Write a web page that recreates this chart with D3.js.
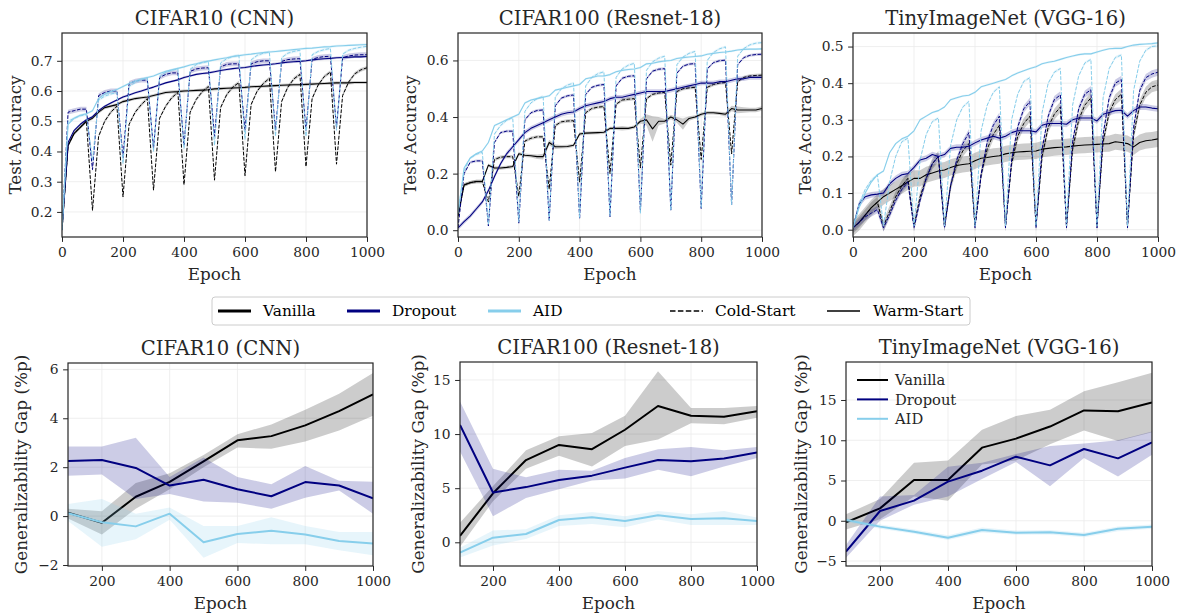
<!DOCTYPE html>
<html>
<head>
<meta charset="utf-8">
<script src="https://cdn.jsdelivr.net/npm/d3@7"></script>
<style>
body { margin: 0; background: #fff; }
svg text { font-family: "DejaVu Serif", serif; }
</style>
</head>
<body>
<svg id="chart" width="1178" height="614"></svg>
<script>
// ---- data ----
const epochs = [0,20,40,60,80,100,120,140,160,180,200,220,240,260,280,300,320,340,360,380,400,420,440,460,480,500,520,540,560,580,600,620,640,660,680,700,720,740,760,780,800,820,840,860,880,900,920,940,960,980,1000];
const gapEpochs = [100,200,300,400,500,600,700,800,900,1000];
const epochTicks = [0,200,400,600,800,1000];
const gapEpochTicks = [200,400,600,800,1000];

const methods = ["Vanilla", "Dropout", "AID"];
const methodColors = ["#000000", "#000080", "#87ceeb"];

// CIFAR10 (CNN) test accuracy
const c10VanWarm = [0.14,0.42,0.46,0.48,0.50, 0.51,0.53,0.545,0.55,0.555, 0.565,0.57,0.575,0.578,0.58, 0.585,0.59,0.595,0.597,0.598, 0.60,0.601,0.602,0.603,0.604, 0.607,0.608,0.609,0.61,0.611, 0.612,0.614,0.615,0.616,0.617, 0.618,0.619,0.62,0.621,0.621, 0.622,0.623,0.624,0.625,0.626, 0.627,0.627,0.627,0.628,0.628, 0.628];
const c10VanCold = [0.14,0.42,0.46,0.48,0.50, 0.205,0.45,0.50,0.53,0.55, 0.25,0.49,0.53,0.555,0.575, 0.272,0.51,0.55,0.578,0.595, 0.29,0.53,0.572,0.598,0.615, 0.305,0.545,0.588,0.613,0.628, 0.32,0.555,0.60,0.625,0.642, 0.333,0.565,0.612,0.64,0.655, 0.35,0.575,0.62,0.648,0.663, 0.358,0.585,0.63,0.657,0.67, 0.677];
const c10DropWarm = [0.14,0.43,0.47,0.49,0.505, 0.515,0.535,0.55,0.56,0.57, 0.58,0.587,0.594,0.60,0.607, 0.613,0.62,0.627,0.632,0.637, 0.645,0.65,0.655,0.658,0.66, 0.664,0.668,0.671,0.674,0.676, 0.678,0.681,0.684,0.686,0.688, 0.69,0.693,0.695,0.697,0.698, 0.70,0.703,0.705,0.707,0.708, 0.71,0.711,0.712,0.713,0.713, 0.714];
const c10DropCold = [0.14,0.53,0.535,0.54,0.54, 0.34,0.585,0.595,0.60,0.60, 0.38,0.625,0.633,0.636,0.636, 0.41,0.645,0.655,0.66,0.66, 0.42,0.665,0.673,0.676,0.677, 0.45,0.68,0.688,0.69,0.69, 0.47,0.69,0.697,0.70,0.70, 0.47,0.698,0.704,0.706,0.707, 0.47,0.705,0.711,0.714,0.715, 0.48,0.71,0.716,0.719,0.72, 0.72];
const c10AidWarm = [0.14,0.49,0.51,0.52,0.525, 0.535,0.575,0.59,0.598,0.605, 0.615,0.625,0.633,0.64,0.645, 0.65,0.658,0.665,0.67,0.675, 0.68,0.686,0.69,0.695,0.699, 0.703,0.707,0.71,0.714,0.717, 0.72,0.722,0.725,0.727,0.729, 0.731,0.733,0.735,0.737,0.739, 0.741,0.742,0.744,0.746,0.747, 0.749,0.75,0.751,0.752,0.753, 0.754];
const c10AidCold = [0.14,0.50,0.51,0.518,0.522, 0.37,0.57,0.583,0.59,0.595, 0.36,0.615,0.628,0.638,0.643, 0.40,0.648,0.662,0.669,0.673, 0.41,0.672,0.687,0.694,0.698, 0.42,0.693,0.707,0.714,0.718, 0.44,0.703,0.718,0.725,0.729, 0.45,0.71,0.725,0.731,0.735, 0.45,0.72,0.731,0.737,0.741, 0.47,0.722,0.735,0.741,0.745, 0.748];

// CIFAR100 (Resnet-18) test accuracy
const c100VanWarm = [0.05,0.16,0.168,0.172,0.172, 0.23,0.22,0.22,0.222,0.225, 0.27,0.265,0.263,0.26,0.26, 0.31,0.295,0.295,0.296,0.30, 0.34,0.343,0.344,0.345,0.346, 0.36,0.36,0.36,0.36,0.365, 0.385,0.39,0.358,0.385,0.385, 0.40,0.39,0.375,0.395,0.40, 0.41,0.415,0.415,0.413,0.41, 0.43,0.425,0.425,0.425,0.425, 0.43];
const c100VanWarmSd = [0.004,0.006,0.006,0.006,0.006, 0.006,0.006,0.006,0.006,0.006, 0.006,0.006,0.006,0.008,0.01, 0.01,0.008,0.006,0.006,0.006, 0.006,0.006,0.006,0.006,0.006, 0.006,0.006,0.008,0.006,0.006, 0.008,0.02,0.045,0.015,0.008, 0.008,0.01,0.02,0.008,0.006, 0.006,0.006,0.006,0.006,0.008, 0.01,0.012,0.01,0.008,0.008, 0.008];
const c100VanCold = [0.05,0.16,0.168,0.172,0.172, 0.10,0.25,0.258,0.26,0.26, 0.12,0.315,0.325,0.33,0.33, 0.145,0.37,0.383,0.386,0.387, 0.17,0.415,0.43,0.435,0.437, 0.20,0.445,0.46,0.463,0.465, 0.22,0.465,0.48,0.485,0.487, 0.23,0.49,0.50,0.503,0.505, 0.25,0.505,0.515,0.52,0.522, 0.27,0.525,0.54,0.545,0.547, 0.548];
const c100DropWarm = [0.008,0.03,0.05,0.075,0.10, 0.14,0.19,0.235,0.27,0.295, 0.32,0.345,0.36,0.37,0.38, 0.39,0.40,0.41,0.415,0.418, 0.43,0.44,0.445,0.45,0.455, 0.465,0.47,0.47,0.475,0.48, 0.485,0.49,0.49,0.49,0.49, 0.495,0.50,0.505,0.51,0.515, 0.52,0.52,0.52,0.525,0.525, 0.53,0.535,0.535,0.54,0.54, 0.54];
const c100DropCold = [0.008,0.20,0.24,0.245,0.245, 0.015,0.31,0.345,0.35,0.35, 0.025,0.39,0.415,0.423,0.425, 0.035,0.44,0.467,0.475,0.478, 0.04,0.48,0.505,0.512,0.515, 0.048,0.51,0.537,0.544,0.546, 0.065,0.535,0.562,0.569,0.571, 0.071,0.555,0.58,0.587,0.589, 0.077,0.57,0.592,0.599,0.601, 0.09,0.585,0.61,0.618,0.621, 0.622];
const c100AidWarm = [0.06,0.22,0.255,0.27,0.28, 0.31,0.37,0.38,0.39,0.40, 0.41,0.45,0.46,0.465,0.47, 0.475,0.495,0.50,0.505,0.51, 0.515,0.535,0.54,0.545,0.545, 0.55,0.56,0.565,0.568,0.57, 0.575,0.588,0.59,0.595,0.598, 0.60,0.607,0.61,0.612,0.614, 0.616,0.622,0.625,0.628,0.63, 0.633,0.637,0.639,0.64,0.64, 0.641];
const c100AidCold = [0.06,0.21,0.255,0.268,0.275, 0.02,0.34,0.37,0.388,0.398, 0.03,0.42,0.45,0.465,0.473, 0.035,0.47,0.50,0.513,0.52, 0.045,0.51,0.54,0.553,0.56, 0.05,0.54,0.57,0.583,0.59, 0.06,0.565,0.595,0.608,0.615, 0.07,0.585,0.612,0.625,0.632, 0.08,0.60,0.628,0.641,0.648, 0.09,0.615,0.642,0.655,0.661, 0.663];

// TinyImageNet (VGG-16) test accuracy
const tinVanWarm = [0.005,0.02,0.04,0.06,0.075, 0.09,0.10,0.11,0.12,0.13, 0.14,0.14,0.15,0.155,0.16, 0.163,0.17,0.175,0.178,0.18, 0.188,0.195,0.197,0.20,0.202, 0.207,0.21,0.212,0.213,0.214, 0.215,0.22,0.222,0.224,0.225, 0.226,0.228,0.23,0.231,0.232, 0.233,0.234,0.235,0.24,0.238, 0.235,0.226,0.238,0.243,0.245, 0.248];
const tinVanCold = [0.005,0.02,0.04,0.06,0.075, 0.01,0.05,0.09,0.12,0.14, 0.01,0.09,0.14,0.18,0.20, 0.01,0.12,0.18,0.215,0.235, 0.01,0.15,0.22,0.26,0.285, 0.01,0.18,0.255,0.29,0.31, 0.01,0.20,0.28,0.315,0.335, 0.01,0.22,0.30,0.34,0.36, 0.01,0.24,0.32,0.355,0.37, 0.01,0.26,0.34,0.375,0.39, 0.395];
const tinDropWarm = [0.005,0.07,0.09,0.095,0.097, 0.10,0.125,0.14,0.15,0.153, 0.17,0.19,0.195,0.205,0.20, 0.205,0.222,0.225,0.225,0.228, 0.237,0.245,0.25,0.255,0.25, 0.255,0.265,0.27,0.27,0.27, 0.267,0.285,0.29,0.29,0.29, 0.288,0.30,0.305,0.305,0.305, 0.297,0.315,0.32,0.325,0.326, 0.31,0.325,0.335,0.335,0.332, 0.33];
const tinDropCold = [0.005,0.02,0.035,0.045,0.055, 0.005,0.04,0.08,0.11,0.13, 0.005,0.08,0.14,0.18,0.20, 0.005,0.12,0.19,0.235,0.265, 0.005,0.15,0.24,0.285,0.31, 0.005,0.19,0.28,0.33,0.35, 0.005,0.22,0.31,0.355,0.368, 0.005,0.24,0.33,0.37,0.382, 0.005,0.26,0.36,0.40,0.41, 0.005,0.28,0.38,0.415,0.425, 0.43];
const tinAidWarm = [0.005,0.06,0.10,0.13,0.15, 0.16,0.21,0.235,0.248,0.255, 0.27,0.30,0.31,0.32,0.325, 0.335,0.355,0.36,0.365,0.367, 0.375,0.39,0.395,0.40,0.405, 0.41,0.42,0.428,0.434,0.44, 0.445,0.453,0.457,0.46,0.465, 0.47,0.474,0.478,0.48,0.48, 0.485,0.49,0.494,0.495,0.495, 0.50,0.504,0.506,0.507,0.508, 0.51];
const tinAidCold = [0.005,0.07,0.11,0.135,0.15, 0.01,0.13,0.20,0.24,0.25, 0.01,0.19,0.26,0.295,0.305, 0.01,0.23,0.30,0.335,0.35, 0.01,0.27,0.34,0.375,0.39, 0.01,0.30,0.37,0.405,0.415, 0.01,0.32,0.40,0.43,0.44, 0.01,0.34,0.42,0.455,0.465, 0.01,0.36,0.44,0.47,0.477, 0.01,0.38,0.46,0.49,0.50, 0.502];

// generalizability gap (%p): mean, lower, upper
const c10GapVan   = [0.14,-0.27,0.79,1.40,2.24,3.10,3.27,3.71,4.29,4.98];
const c10GapVanLo = [-0.1,-0.75,0.3,1.1,2.0,2.8,2.75,3.05,3.5,4.1];
const c10GapVanHi = [0.3,0.2,1.35,1.75,2.5,3.35,3.75,4.35,5.0,5.85];
const c10GapDrop   = [2.25,2.29,1.97,1.25,1.49,1.1,0.81,1.39,1.25,0.73];
const c10GapDropLo = [1.65,1.7,0.7,0.9,0.6,0.55,0.3,0.75,1.05,0.1];
const c10GapDropHi = [2.85,2.85,3.2,1.6,2.4,1.6,1.3,2.05,1.45,1.4];
const c10GapAid   = [0.12,-0.25,-0.42,0.1,-1.07,-0.73,-0.6,-0.75,-1.02,-1.12];
const c10GapAidLo = [-0.2,-1.25,-0.95,-0.15,-1.7,-1.1,-1.15,-1.15,-1.4,-1.6];
const c10GapAidHi = [0.5,0.7,0.1,0.35,-0.4,-0.4,-0.05,-0.4,-0.65,-0.65];

const c100GapVan   = [0.59,4.53,7.6,9.0,8.6,10.4,12.6,11.7,11.6,12.1];
const c100GapVanLo = [-0.4,3.8,6.8,8.0,7.0,8.9,9.5,11.0,10.9,11.5];
const c100GapVanHi = [1.8,5.2,8.5,9.8,10.1,11.7,15.8,12.4,12.4,12.6];
const c100GapDrop   = [10.85,4.6,5.1,5.76,6.16,6.9,7.6,7.5,7.75,8.29];
const c100GapDropLo = [8.4,2.4,4.1,4.9,5.7,5.9,6.7,6.1,7.0,7.8];
const c100GapDropHi = [13.0,6.8,6.0,6.7,6.6,7.8,8.6,8.8,8.5,8.8];
const c100GapAid   = [-0.95,0.43,0.77,2.06,2.31,1.97,2.5,2.16,2.22,1.97];
const c100GapAidLo = [-1.4,-0.3,0.3,1.5,1.7,1.4,2.1,1.6,1.6,1.6];
const c100GapAidHi = [-0.5,1.1,1.2,2.5,2.8,2.4,2.9,2.6,2.9,2.3];

const tinGapVan   = [-0.2,1.54,5.06,5.06,9.08,10.2,11.7,13.7,13.6,14.7];
const tinGapVanLo = [-1.1,0.2,3.0,2.5,7.0,7.5,9.5,11.2,9.9,11.0];
const tinGapVanHi = [0.8,2.7,7.2,7.5,11.3,13.0,13.8,16.1,17.2,18.4];
const tinGapDrop   = [-3.84,1.21,2.5,4.86,6.22,7.96,6.88,8.91,7.75,9.74];
const tinGapDropLo = [-4.6,0.0,2.0,3.0,5.2,7.3,4.3,7.8,5.5,8.2];
const tinGapDropHi = [-3.0,3.0,3.2,6.7,7.2,8.3,9.3,9.6,10.0,11.1];
const tinGapAid   = [0.1,-0.73,-1.36,-2.1,-1.15,-1.48,-1.44,-1.77,-0.98,-0.73];
const tinGapAidLo = [-0.2,-1.0,-1.6,-2.4,-1.45,-1.75,-1.7,-2.05,-1.3,-1.0];
const tinGapAidHi = [0.35,-0.45,-1.1,-1.8,-0.85,-1.2,-1.15,-1.5,-0.7,-0.45];

// ---- drawing ----
const svg = d3.select("#chart");
const defs = svg.append("defs");
const ink = "#262626";

function band(ys, sd) {
	return {
		lo: ys.map((v, i) => v - (Array.isArray(sd) ? sd[i] : sd)),
		hi: ys.map((v, i) => v + (Array.isArray(sd) ? sd[i] : sd))
	};
}

// one accuracy curve: warm or cold, with its shaded spread
function accSeries(ys, sd, colorIdx, cold) {
	const b = band(ys, sd);
	return {xs: epochs, ys: ys, lo: b.lo, hi: b.hi, color: methodColors[colorIdx],
		dash: cold ? "3.7,1.6" : null, width: cold ? 1.0 : 1.1};
}

function gapSeries(ys, lo, hi, colorIdx) {
	return {xs: gapEpochs, ys: ys, lo: lo, hi: hi, color: methodColors[colorIdx], dash: null, width: 2};
}

const panels = [
	{title: "CIFAR10 (CNN)", left: 62, right: 367, top: 33, bottom: 237,
	 xDomain: [0, 1000], yDomain: [0.117, 0.792], xTicks: epochTicks, yTicks: [0.2,0.3,0.4,0.5,0.6,0.7],
	 yFmt: d3.format(".1f"), yLabel: "Test Accuracy", yLabelX: 21, series: [
		accSeries(c10VanCold, 0.006, 0, true), accSeries(c10VanWarm, 0.005, 0, false),
		accSeries(c10DropCold, 0.008, 1, true), accSeries(c10DropWarm, 0.004, 1, false),
		accSeries(c10AidCold, 0.005, 2, true), accSeries(c10AidWarm, 0.004, 2, false)]},
	{title: "CIFAR100 (Resnet-18)", left: 458, right: 762, top: 33, bottom: 237,
	 xDomain: [0, 1000], yDomain: [-0.024, 0.697], xTicks: epochTicks, yTicks: [0.0,0.2,0.4,0.6],
	 yFmt: d3.format(".1f"), yLabel: "Test Accuracy", yLabelX: 416, series: [
		accSeries(c100VanCold, 0.006, 0, true), accSeries(c100VanWarm, c100VanWarmSd, 0, false),
		accSeries(c100DropCold, 0.005, 1, true), accSeries(c100DropWarm, 0.008, 1, false),
		accSeries(c100AidCold, 0.005, 2, true), accSeries(c100AidWarm, 0.004, 2, false)]},
	{title: "TinyImageNet (VGG-16)", left: 853, right: 1158, top: 33, bottom: 237,
	 xDomain: [0, 1000], yDomain: [-0.020, 0.537], xTicks: epochTicks, yTicks: [0.0,0.1,0.2,0.3,0.4,0.5],
	 yFmt: d3.format(".1f"), yLabel: "Test Accuracy", yLabelX: 811, series: [
		accSeries(tinVanCold, 0.015, 0, true), accSeries(tinVanWarm, 0.022, 0, false),
		accSeries(tinDropCold, 0.01, 1, true), accSeries(tinDropWarm, 0.008, 1, false),
		accSeries(tinAidCold, 0.004, 2, true), accSeries(tinAidWarm, 0.003, 2, false)]},
	{title: "CIFAR10 (CNN)", left: 68, right: 373, top: 363, bottom: 566,
	 xDomain: [100, 1000], yDomain: [-2.04, 6.26], xTicks: gapEpochTicks, yTicks: [-2,0,2,4,6],
	 yFmt: d3.format("d"), yLabel: "Generalizability Gap (%p)", yLabelX: 27, series: [
		gapSeries(c10GapVan, c10GapVanLo, c10GapVanHi, 0),
		gapSeries(c10GapDrop, c10GapDropLo, c10GapDropHi, 1),
		gapSeries(c10GapAid, c10GapAidLo, c10GapAidHi, 2)]},
	{title: "CIFAR100 (Resnet-18)", left: 460, right: 757, top: 362, bottom: 566,
	 xDomain: [100, 1000], yDomain: [-2.19, 16.66], xTicks: gapEpochTicks, yTicks: [0,5,10,15],
	 yFmt: d3.format("d"), yLabel: "Generalizability Gap (%p)", yLabelX: 424, series: [
		gapSeries(c100GapVan, c100GapVanLo, c100GapVanHi, 0),
		gapSeries(c100GapDrop, c100GapDropLo, c100GapDropHi, 1),
		gapSeries(c100GapAid, c100GapAidLo, c100GapAidHi, 2)]},
	{title: "TinyImageNet (VGG-16)", left: 846, right: 1152, top: 362, bottom: 566,
	 xDomain: [100, 1000], yDomain: [-5.62, 19.72], xTicks: gapEpochTicks, yTicks: [-5,0,5,10,15],
	 yFmt: d3.format("d"), yLabel: "Generalizability Gap (%p)", yLabelX: 807, legend: true, series: [
		gapSeries(tinGapVan, tinGapVanLo, tinGapVanHi, 0),
		gapSeries(tinGapDrop, tinGapDropLo, tinGapDropHi, 1),
		gapSeries(tinGapAid, tinGapAidLo, tinGapAidHi, 2)]}
];

function drawPanel(p, idx) {
	const x = d3.scaleLinear().domain(p.xDomain).range([p.left, p.right]);
	const y = d3.scaleLinear().domain(p.yDomain).range([p.bottom, p.top]);
	const g = svg.append("g");

	// grid
	g.append("g").selectAll("line").data(p.xTicks).join("line")
		.attr("x1", d => x(d)).attr("x2", d => x(d))
		.attr("y1", p.top).attr("y2", p.bottom)
		.attr("stroke", "#ebebeb").attr("stroke-width", 0.8);
	g.append("g").selectAll("line").data(p.yTicks).join("line")
		.attr("x1", p.left).attr("x2", p.right)
		.attr("y1", d => y(d)).attr("y2", d => y(d))
		.attr("stroke", "#ebebeb").attr("stroke-width", 0.8);

	defs.append("clipPath").attr("id", "clip" + idx)
		.append("rect").attr("x", p.left).attr("y", p.top)
		.attr("width", p.right - p.left).attr("height", p.bottom - p.top);
	const plot = g.append("g").attr("clip-path", "url(#clip" + idx + ")");

	p.series.forEach(s => {
		const pts = s.xs.map((e, i) => ({e: e, v: s.ys[i], lo: s.lo[i], hi: s.hi[i]}));
		plot.append("path").datum(pts)
			.attr("fill", s.color).attr("fill-opacity", 0.2)
			.attr("d", d3.area().x(d => x(d.e)).y0(d => y(d.lo)).y1(d => y(d.hi)));
		plot.append("path").datum(pts)
			.attr("fill", "none").attr("stroke", s.color)
			.attr("stroke-width", s.width)
			.attr("stroke-dasharray", s.dash)
			.attr("stroke-linejoin", "round")
			.attr("d", d3.line().x(d => x(d.e)).y(d => y(d.v)));
	});

	// frame
	g.append("rect").attr("x", p.left).attr("y", p.top)
		.attr("width", p.right - p.left).attr("height", p.bottom - p.top)
		.attr("fill", "none").attr("stroke", ink).attr("stroke-width", 1.2);

	// axes
	const ax = g.append("g").attr("transform", "translate(0," + p.bottom + ")")
		.call(d3.axisBottom(x).tickValues(p.xTicks).tickFormat(d3.format("d")).tickSize(4.9).tickPadding(5.5));
	const ay = g.append("g").attr("transform", "translate(" + p.left + ",0)")
		.call(d3.axisLeft(y).tickValues(p.yTicks).tickFormat(p.yFmt).tickSize(4.9).tickPadding(4.5));
	[ax, ay].forEach(a => {
		a.select(".domain").remove();
		a.selectAll("line").attr("stroke", ink).attr("stroke-width", 1);
		a.selectAll("text").attr("fill", ink).style("font-size", "13.8px")
			.style("font-family", "DejaVu Serif, serif");
	});

	// titles and labels
	g.append("text").attr("x", (p.left + p.right) / 2).attr("y", p.top - 8)
		.attr("text-anchor", "middle").attr("fill", ink).style("font-size", "19.6px").text(p.title);
	g.append("text").attr("x", (p.left + p.right) / 2).attr("y", p.bottom + 43)
		.attr("text-anchor", "middle").attr("fill", ink).style("font-size", "16.8px").text("Epoch");
	g.append("text")
		.attr("transform", "translate(" + p.yLabelX + "," + ((p.top + p.bottom) / 2) + ") rotate(-90)")
		.attr("text-anchor", "middle").attr("fill", ink).style("font-size", "16.8px").text(p.yLabel);

	if (p.legend) {
		const lg = g.append("g");
		methods.forEach((m, i) => {
			const ly = 380 + i * 19.4;
			lg.append("line").attr("x1", 857).attr("x2", 888).attr("y1", ly).attr("y2", ly)
				.attr("stroke", methodColors[i]).attr("stroke-width", 2);
			lg.append("text").attr("x", 895).attr("y", ly).attr("dy", "0.35em")
				.attr("fill", ink).style("font-size", "14.7px").text(m);
		});
	}
}

panels.forEach(drawPanel);

// shared legend between rows
const legendItems = [
	{label: "Vanilla", color: methodColors[0], width: 3, dash: null, x: 218, tx: 263},
	{label: "Dropout", color: methodColors[1], width: 3, dash: null, x: 347, tx: 392},
	{label: "AID", color: methodColors[2], width: 3, dash: null, x: 488, tx: 533},
	{label: "Cold-Start", color: "#000", width: 1.5, dash: "5.5,2.4", x: 670, tx: 715},
	{label: "Warm-Start", color: "#000", width: 1.5, dash: null, x: 827, tx: 873}
];
const leg = svg.append("g");
leg.append("rect").attr("x", 212).attr("y", 297).attr("width", 758).attr("height", 28)
	.attr("rx", 3).attr("fill", "#fff").attr("stroke", "#cccccc").attr("stroke-width", 1);
legendItems.forEach(it => {
	leg.append("line").attr("x1", it.x).attr("x2", it.x + 33).attr("y1", 311).attr("y2", 311)
		.attr("stroke", it.color).attr("stroke-width", it.width).attr("stroke-dasharray", it.dash);
	leg.append("text").attr("x", it.tx).attr("y", 311).attr("dy", "0.35em")
		.attr("fill", "#000").style("font-size", "15.4px").text(it.label);
});
</script>
</body>
</html>
